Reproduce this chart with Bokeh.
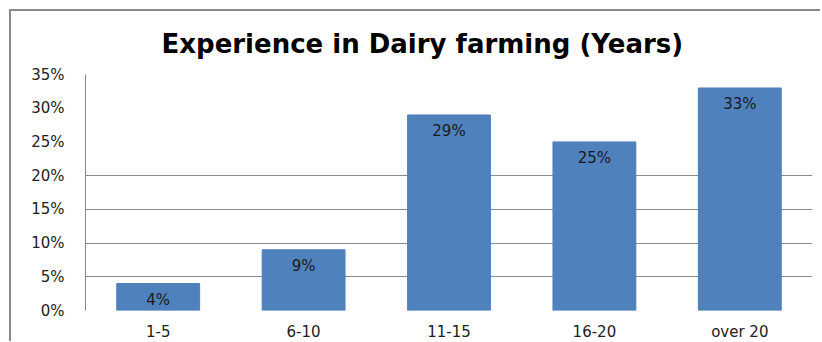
from bokeh.plotting import figure
from bokeh.models import FixedTicker, PrintfTickFormatter, ColumnDataSource
from bokeh.core.properties import value
from bokeh.embed import file_html
from bokeh.resources import INLINE

# Years of dairy farming experience (share of respondents, %)
categories = ["1-5", "6-10", "11-15", "16-20", "over 20"]
shares = [4, 9, 29, 25, 33]
y_ticks = [0, 5, 10, 15, 20, 25, 30, 35]
grid_ticks = [5, 10, 15, 20]

FONT = "DejaVu Sans"
BAR = "#4f81bd"
GRID = "#8a8a8a"

source = ColumnDataSource(data=dict(
    cat=categories,
    share=shares,
    label=[f"{v}%" for v in shares],
))

p = figure(
    x_range=categories,
    y_range=(0, 35),
    width=811,
    height=332,
    output_backend="svg",
    toolbar_location=None,
    min_border_left=74,
    min_border_right=10,
    min_border_top=62,
    min_border_bottom=30,
)
# outer chart-area frame (only its top and left edges fall inside the view)
p.styles = {
    "margin-left": "9px",
    "margin-top": "9px",
    "border-left": f"2px solid {GRID}",
    "border-top": f"2px solid {GRID}",
}

p.title.text = "Experience in Dairy farming (Years)"
p.title.text_font = FONT
p.title.text_font_size = "26px"
p.title.text_font_style = "bold"
p.title.text_color = "#000000"
p.title.align = "left"
p.title.offset = 76
p.title.standoff = 31

p.vbar(x="cat", top="share", width=0.57, source=source,
       fill_color=BAR, line_color=BAR)

p.text(x="cat", y="share", text="label", source=source,
       text_font=value(FONT), text_font_size="15px", text_color="#1a1a1a",
       text_align="center", text_baseline="middle", y_offset=16)

p.outline_line_color = None
p.background_fill_color = "white"
p.border_fill_color = "white"

p.xgrid.grid_line_color = None
p.ygrid.ticker = FixedTicker(ticks=grid_ticks)
p.ygrid.grid_line_color = GRID
p.ygrid.grid_line_width = 1

p.yaxis.ticker = FixedTicker(ticks=y_ticks)
p.yaxis.formatter = PrintfTickFormatter(format="%d%%")
p.yaxis.axis_line_color = GRID
p.yaxis.major_tick_line_color = None
p.yaxis.minor_tick_line_color = None
p.yaxis.major_tick_out = 0
p.yaxis.major_label_standoff = 21
p.yaxis.major_label_text_font = FONT
p.yaxis.major_label_text_font_size = "15px"
p.yaxis.major_label_text_color = "#222222"

p.xaxis.axis_line_color = None
p.xaxis.major_tick_line_color = None
p.xaxis.major_tick_out = 0
p.xaxis.major_label_standoff = 12
p.xaxis.major_label_text_font = FONT
p.xaxis.major_label_text_font_size = "15px"
p.xaxis.major_label_text_color = "#222222"

p.x_range.range_padding = 0

open("out.html", "w").write(file_html(p, INLINE))
